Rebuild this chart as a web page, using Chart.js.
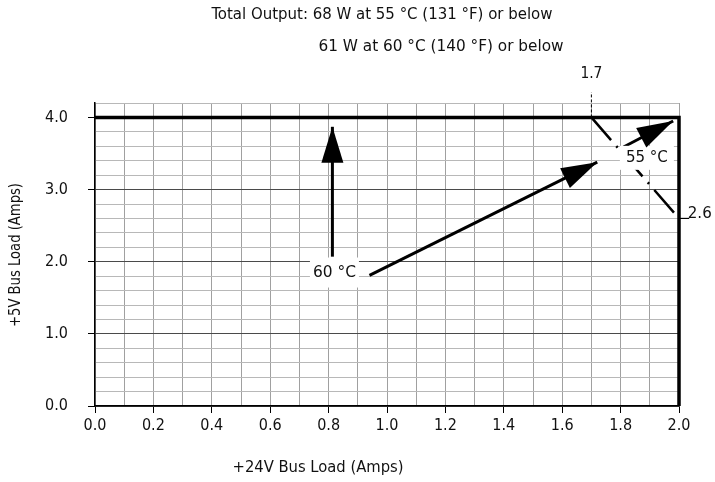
<!DOCTYPE html>
<html lang="en">
<head>
  <meta charset="UTF-8">
  <title>Bus Load Derating</title>
  <script src="https://cdn.jsdelivr.net/npm/chart.js"></script>
  <style>
    body {
      margin: 0;
      background: #fff;
    }
    #chart {
      display: block;
    }
  </style>
</head>
<body>
  <canvas id="chart" width="715" height="482"></canvas>

  <script>
    // limits
    const limit60X = [0, 2.0, 2.0];
    const limit60Y = [4.0, 4.0, 0];
    const limit55X = [1.7, 2.0];
    const limit55Y = [4.0, 2.6];
    const lead17X = [1.7, 1.7];
    const lead17Y = [4.0, 4.35];
    const lead26X = [2.0, 2.035];
    const lead26Y = [2.6, 2.6];

    // arrows
    const arrowUpX = [0.813, 0.813];
    const arrowUpY = [2.07, 3.87];
    const arrowDiagX = [0.94, 1.72];
    const arrowDiagY = [1.81, 3.38];
    const arrow55X = [1.81, 1.98];
    const arrow55Y = [3.59, 3.95];

    const xMin = 0, xMax = 2.0, xStep = 0.1;
    const yMin = 0, yMax = 4.2, yStep = 0.2;

    const titleLines = [
      'Total Output: 68 W at 55 °C (131 °F) or below',
      '61 W at 60 °C (140 °F) or below'
    ];
    const xTitle = '+24V Bus Load (Amps)';
    const yTitle = '+5V Bus Load (Amps)';

    const FONT = "'Liberation Sans Narrow', 'DejaVu Sans Condensed', sans-serif";

    function pts(xs, ys) {
      return xs.map((x, i) => ({ x: x, y: ys[i] }));
    }

    function isMult(v, m) {
      const r = v / m;
      return Math.abs(r - Math.round(r)) < 1e-6;
    }

    // centred text stretched to a width, the original uses a condensed face
    function fitText(ctx, text, cx, cy, w) {
      const m = ctx.measureText(text).width;
      const s = w / m;
      ctx.save();
      ctx.translate(cx, cy);
      ctx.scale(s, 1);
      ctx.textAlign = 'center';
      ctx.fillText(text, 0, 0);
      ctx.restore();
    }

    // labels with white boxes, placed in data units
    const boxLabels = [
      { text: '60 °C', x: 0.82, y: 1.85, w: 49, h: 30, tw: 43 },
      { text: '55 °C', x: 1.89, y: 3.44, w: 54, h: 24, tw: 42 }
    ];
    const plainLabels = [
      { text: '1.7', x: 1.7, y: 4.6, dx: 0, tw: 22 },
      { text: '2.6', x: 2.03, y: 2.66, dx: 12, tw: 24 }
    ];

    const annotate = {
      id: 'annotate',
      afterDatasetsDraw(chart) {
        const ctx = chart.ctx;
        const xs = chart.scales.x, ys = chart.scales.y;
        ctx.save();
        ctx.font = '16px ' + FONT;
        ctx.textBaseline = 'middle';

        boxLabels.forEach(l => {
          const px = xs.getPixelForValue(l.x), py = ys.getPixelForValue(l.y);
          ctx.fillStyle = '#fff';
          ctx.fillRect(px - l.w / 2, py - l.h / 2, l.w, l.h);
          ctx.fillStyle = '#111';
          fitText(ctx, l.text, px, py, l.tw);
        });

        plainLabels.forEach(l => {
          ctx.fillStyle = '#111';
          fitText(ctx, l.text, xs.getPixelForValue(l.x) + l.dx, ys.getPixelForValue(l.y), l.tw);
        });

        // arrow heads on datasets flagged as arrows
        chart.data.datasets.forEach((ds, i) => {
          if (!ds.arrow) return;
          const d = chart.getDatasetMeta(i).data;
          const a = d[d.length - 2], b = d[d.length - 1];
          const ang = Math.atan2(b.y - a.y, b.x - a.x);
          const len = 36, half = 11;
          const bx = b.x - len * Math.cos(ang), by = b.y - len * Math.sin(ang);
          ctx.fillStyle = '#000';
          ctx.beginPath();
          ctx.moveTo(b.x, b.y);
          ctx.lineTo(bx + half * Math.sin(ang), by - half * Math.cos(ang));
          ctx.lineTo(bx - half * Math.sin(ang), by + half * Math.cos(ang));
          ctx.closePath();
          ctx.fill();
        });

        // titles
        ctx.fillStyle = '#111';
        fitText(ctx, titleLines[0], 382, 15, 341);
        fitText(ctx, titleLines[1], 441, 47, 245);
        fitText(ctx, xTitle, 318, 468, 171);

        ctx.translate(16, 255);
        ctx.rotate(-Math.PI / 2);
        fitText(ctx, yTitle, 0, 0, 144);
        ctx.restore();
      }
    };

    const line = (xs, ys, extra) => Object.assign({
      data: pts(xs, ys),
      showLine: true,
      borderColor: '#000',
      borderWidth: 3,
      pointRadius: 0,
      fill: false,
      clip: false
    }, extra || {});

    new Chart(document.getElementById('chart').getContext('2d'), {
      type: 'scatter',
      data: {
        datasets: [
          line(limit55X, limit55Y, { borderWidth: 2.5, borderDash: [30, 8, 2, 8] }),
          line(lead17X, lead17Y, { borderWidth: 1, borderDash: [3, 2] }),
          line(lead26X, lead26Y, { borderWidth: 1.2 }),
          line(limit60X, limit60Y, { borderWidth: 3.5 }),
          line(arrowUpX, arrowUpY, { arrow: true }),
          line(arrowDiagX, arrowDiagY, { arrow: true }),
          line(arrow55X, arrow55Y, { arrow: true })
        ]
      },
      options: {
        responsive: false,
        animation: false,
        layout: { padding: { top: 103, right: 36, left: 0, bottom: 0 } },
        plugins: {
          legend: { display: false },
          tooltip: { enabled: false }
        },
        scales: {
          x: {
            type: 'linear',
            min: xMin,
            max: xMax,
            afterFit(scale) { scale.height = 76; },
            ticks: {
              stepSize: xStep,
              autoSkip: false,
              maxRotation: 0,
              padding: 3,
              color: '#111',
              font: { family: FONT, size: 16 },
              callback: v => isMult(v, 0.2) ? v.toFixed(1) : ''
            },
            grid: {
              color: '#a0a0a0',
              lineWidth: 1,
              tickLength: 7,
              tickColor: c => isMult(c.tick.value, 0.2) ? '#000' : 'rgba(0,0,0,0)'
            },
            border: { color: '#000', width: 1.5 }
          },
          y: {
            type: 'linear',
            min: yMin,
            max: yMax,
            afterFit(scale) { scale.width = 95; },
            ticks: {
              stepSize: yStep,
              autoSkip: false,
              padding: 20,
              color: '#111',
              font: { family: FONT, size: 16 },
              callback: v => isMult(v, 1) ? v.toFixed(1) : ''
            },
            grid: {
              color: c => isMult(c.tick.value, 1) ? '#4a4a4a' : '#b8b8b8',
              lineWidth: 1,
              tickLength: 7,
              tickColor: c => isMult(c.tick.value, 1) ? '#000' : 'rgba(0,0,0,0)'
            },
            border: { color: '#000', width: 1.5 }
          }
        }
      },
      plugins: [annotate]
    });
  </script>
</body>
</html>
